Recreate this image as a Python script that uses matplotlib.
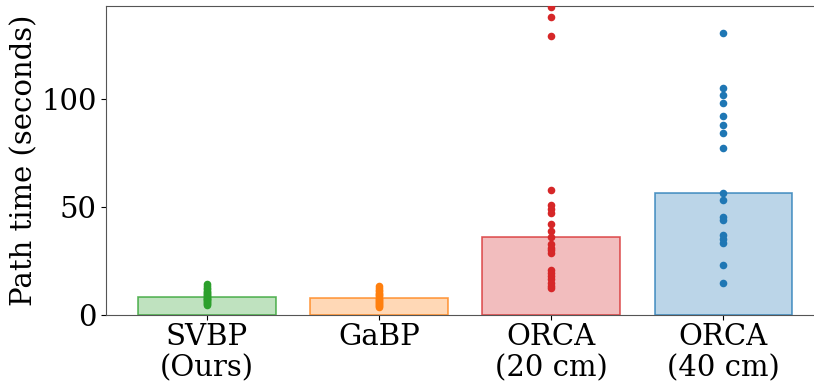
import numpy as np
import matplotlib
matplotlib.use("Agg")
import matplotlib.pyplot as plt
from matplotlib.colors import to_rgba

plt.rcParams['font.family'] = ['DejaVu Serif']

labels = ["SVBP\n(Ours)", "GaBP", "ORCA\n(20 cm)", "ORCA\n(40 cm)"]
bar_heights = [8.5, 7.9, 36.1, 56.6]
colors = ["#2ca02c", "#ff7f0e", "#d62728", "#1f77b4"]

svbp_times = [4.6, 5.0, 5.4, 5.9, 6.3, 6.8, 7.2, 7.6, 8.0, 8.4, 8.9, 9.3,
              9.8, 10.2, 10.7, 11.3, 11.9, 12.6, 13.4, 14.4]
gabp_times = [3.7, 4.1, 4.6, 5.1, 5.6, 6.0, 6.5, 7.0, 7.5, 8.0, 8.6, 9.1,
              9.7, 10.3, 11.0, 11.8, 12.6, 13.4]
orca20_times = [142.6, 138.0, 129.0, 57.9, 51.0, 49.0, 47.0, 42.0, 39.0,
                36.0, 33.0, 31.0, 30.0, 28.7, 20.8, 19.5, 18.0, 16.5, 15.0,
                13.5, 12.5]
orca40_times = [130.4, 105.0, 101.9, 98.3, 92.3, 88.0, 84.4, 77.5, 56.5,
                53.2, 45.4, 44.0, 37.0, 35.0, 33.3, 23.1, 14.8]
all_times = [svbp_times, gabp_times, orca20_times, orca40_times]

fig = plt.figure(figsize=(8.14, 3.83), dpi=100)
ax = fig.add_axes([0.130, 0.1775, 0.875, 0.807])

x = np.arange(len(labels))
for i in range(len(labels)):
    ax.bar(x[i], bar_heights[i], width=0.8,
           facecolor=to_rgba(colors[i], 0.3),
           edgecolor=to_rgba(colors[i], 0.75), linewidth=1.2, zorder=1)
    ax.scatter(np.full(len(all_times[i]), x[i]), all_times[i], s=30,
               color=colors[i], zorder=3, linewidths=0)

ax.set_xlim(-0.587, 3.55)
ax.set_ylim(0, 143)
ax.set_xticks(x)
ax.set_xticklabels(labels, fontsize=21, linespacing=1.15)
ax.set_yticks([0, 50, 100])
ax.tick_params(axis='x', pad=2)
ax.tick_params(axis='y', labelsize=21, pad=3)
ax.set_ylabel("Path time (seconds)", fontsize=21, labelpad=2)
ax.spines['right'].set_visible(False)
for s in ['left', 'bottom', 'top']:
    ax.spines[s].set_color('#555555')

fig.savefig("out.png", dpi=100)
